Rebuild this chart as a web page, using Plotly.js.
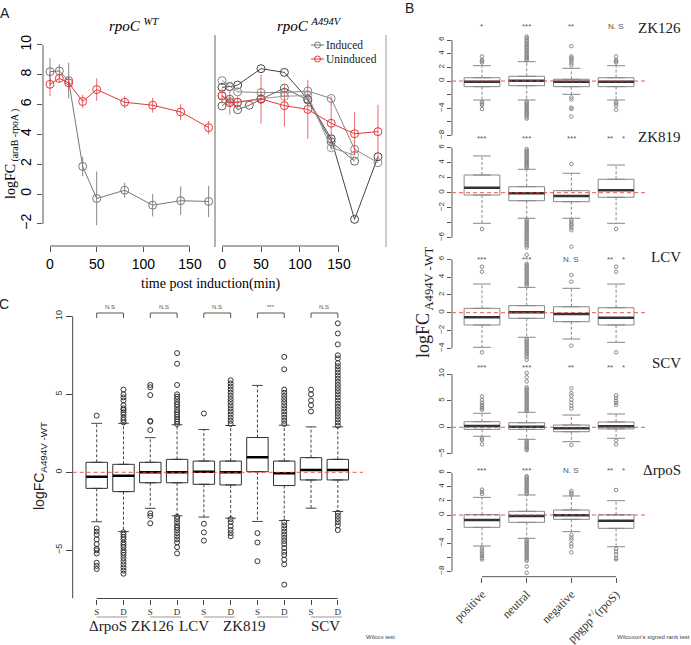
<!DOCTYPE html>
<html><head><meta charset="utf-8">
<script src="https://cdn.plot.ly/plotly-3.0.1.min.js"></script>
<style>html,body{margin:0;padding:0;background:#fff}#chart{width:691px;height:645px}</style>
</head><body><div id="chart"></div>
<script>
// ---------------- Panel A data ----------------
const timeWT = [0,10,20,35,50,80,110,140,170];
const wtInduced = [8.2,8.25,7.6,1.85,-0.3,0.25,-0.75,-0.45,-0.5];
const wtInducedErr = [0.9,0.45,1.2,0.65,1.8,0.5,0.75,0.95,1.05];
const wtUninduced = [7.35,7.75,7.45,6.2,7.0,6.15,5.95,5.5,4.45];
const wtUninducedErr = [0.8,0.3,0.4,0.45,0.75,0.4,0.5,0.55,0.45];

const timeMut = [0,10,20,50,80,110,140,170,200];
const mutUninduced = [6.57,6.12,6.15,6.37,5.92,5.67,4.74,4.04,4.18];
const mutUninducedErr = [0.5,0.8,0.4,1.65,1.4,1.98,1.8,1.45,1.8];
const mutRep1 = [7.15,7.2,7.3,8.4,8.15,6.35,3.7,-1.7,2.5];
const mutRep2 = [7.6,7.2,6.85,6.8,6.8,6.9,6.4,3.0,2.1];
const timeRep3 = [0,10,20,35,50,80,110,140,170];
const mutRep3 = [5.9,6.35,5.65,5.95,6.35,7.1,6.3,3.5,2.2];
const timeRep4 = [0,10,20,50,80,110,140,170];
const mutRep4 = [6.6,6.2,6.15,6.4,6.55,6.6,3.1,2.6];
const aTicksX = [0,50,100,150];
const aTicksY = [-2,0,2,4,6,8,10];

// ---------------- Panel B data ----------------
const bCats = ['positive','neutral','negative','ppgpp<sup>+/</sup>(rpoS)'];
const bStrains = ['ZK126','ZK819','LCV','SCV','ΔrpoS'];

const zk126Q1=[-0.83,-0.69,-0.83,-0.83], zk126Med=[-0.10,0.05,-0.10,-0.10], zk126Q3=[0.48,0.69,0.25,0.48];
const zk126Lo=[-2.78,-2.78,-1.95,-2.78], zk126Hi=[2.24,2.83,1.86,2.24];
const zk126Out=[[2.7,2.9,3.05,3.6,-3.1,-3.3,-3.5,-4.1],
 [3.0,3.15,3.35,3.5,3.7,3.9,4.05,4.3,4.45,4.6,4.85,5.0,5.2,5.45,5.6,5.85,6.05,6.3,6.5,-3.0,-3.15,-3.35,-3.55,-3.7,-3.9,-4.1,-4.25,-4.5,-4.7,-4.85,-5.05,-5.3,-5.5],
 [2.3,2.6,2.9,3.2,3.4,3.6,5.1,-2.4,-2.7,-3.9,-4.1,-5.2],
 [2.7,2.9,3.05,3.6,-3.1,-3.3,-3.6,-4.2]];
const zk126Sig=['*','***','**','N. S'];

const zk819Q1=[-0.31,-1.07,-1.20,-0.61], zk819Med=[0.67,-0.08,-0.44,0.32], zk819Q3=[2.36,0.80,0.27,1.79];
const zk819Lo=[-4.08,-3.41,-3.41,-4.08], zk819Hi=[4.90,3.12,2.59,3.69];
const zk819Out=[[-4.85],
 [3.3,3.45,3.6,3.8,3.95,4.1,4.3,4.45,4.6,4.8,4.95,5.1,5.3,5.45,5.6,5.8,-3.6,-3.8,-3.95,-4.15,-4.3,-4.5,-4.7,-4.85,-5.05,-5.25,-5.4,-5.6,-5.8,-6.0,-6.2,-6.4,-6.6,-6.85,-7.05,-7.3,-8.3],
 [3.83,-3.7,-3.9,-4.2,-4.4,-4.7,-5.0,-7.2],
 [-4.85]];
const zk819Sig=['***','***','***','**    *'];

const lcvQ1=[-1.38,-0.63,-1.01,-1.38], lcvMed=[-0.52,0.04,-0.15,-0.56], lcvQ3=[0.49,0.79,0.67,0.56];
const lcvLo=[-3.89,-2.76,-2.96,-3.33], lcvHi=[3.22,2.85,2.74,3.22];
const lcvOut=[[4.6,5.17,-4.45],
 [3.0,3.2,3.35,3.5,3.7,3.85,4.0,4.2,4.35,4.5,4.7,4.85,5.0,5.2,5.35,5.5,6.5,-2.95,-3.1,-3.3,-3.45,-3.6,-3.8,-3.95,-4.1,-4.3,-4.45,-4.6,-4.8,-5.0,-5.3],
 [3.48,4.24,-3.7],
 [4.6,5.17,-4.45]];
const lcvSig=['***','***','N. S','**    *'];

const scvQ1=[-0.38,-0.38,-0.83,-0.30], scvMed=[0.24,0.11,-0.19,0.20], scvQ3=[1.05,0.86,0.43,1.00];
const scvLo=[-1.69,-2.25,-2.70,-2.06], scvHi=[2.63,2.81,2.30,2.50];
const scvOut=[[3.3,3.6,3.9,4.2,4.6,5.1,5.8,-2.1,-2.4,-3.2],
 [3.0,3.25,3.5,3.8,4.05,4.3,4.6,4.85,5.1,5.4,5.65,5.9,6.2,6.45,6.7,7.0,7.25,7.5,8.6,9.4,10.2,-2.5,-2.75,-3.0,-3.3,-3.55,-3.8,-4.05,-4.3],
 [3.5,4.0,4.6,5.2,5.9,6.4,7.3,-3.3],
 [4.2,4.6,5.0,5.5,6.0,-2.5,-3.2]];
const scvSig=['***','***','**','**    *'];

const rposQ1=[-1.75,-1.04,-0.61,-1.89], rposMed=[-0.71,-0.14,-0.05,-0.80], rposQ3=[0.05,0.52,0.71,0.02];
const rposLo=[-4.40,-3.31,-2.36,-4.50], rposHi=[2.50,2.84,2.70,2.03];
const rposOut=[[3.0,3.3,3.6,-4.6,-4.9,-5.2,-5.5,-5.8,-6.1,-6.3],
 [3.0,3.2,3.4,3.6,3.8,3.95,4.15,4.35,4.55,4.75,4.95,5.15,5.35,5.5,-3.5,-3.7,-3.9,-4.1,-4.3,-4.5,-4.7,-4.9,-5.1,-5.3,-5.5,-5.7,-5.9,-6.1,-6.3,-6.5,-7.3,-8.2],
 [2.9,3.1,3.4,-2.8,-3.2,-3.5,-4.1,-4.5,-5.3],
 [3.55,-4.8,-5.2,-5.6,-6.1,-6.3]];
const rposSig=['***','***','N. S','**    *'];

// labelled ticks and unlabelled (minor) ticks of each B panel
const zk126Ticks=[-8,-4,0,2,4,6], zk126Minor=[-6,-2];
const zk819Ticks=[-6,-2,0,2,4,6], zk819Minor=[-4];
const lcvTicks=[-4,-2,0,2,4,6], lcvMinor=[];
const scvTicks=[-5,0,5,10], scvMinor=[];
const rposTicks=[-8,-4,0,2,4,6], rposMinor=[-6,-2];

// ---------------- Panel C data ----------------
const cTickText = ['S','D','S','D','S','D','S','D','S','D'];
const cGroups = ['ΔrpoS','ZK126','LCV','ZK819','SCV'];
const cSig = ['N.S','N.S','N.S','***','N.S'];
const cQ1 = [-1.03,-1.24,-0.67,-0.67,-0.77,-0.81,0.04,-0.85,-0.49,-0.49];
const cMed = [-0.28,-0.22,0.0,0.0,0.04,0.0,0.96,-0.06,0.15,0.15];
const cQ3 = [0.64,0.51,0.64,0.83,0.72,0.72,2.23,0.72,0.94,0.83];
const cLo = [-3.17,-3.8,-2.31,-2.79,-2.87,-2.94,-3.15,-3.09,-2.30,-2.51];
const cHi = [3.14,3.14,2.22,3.05,2.74,3.0,5.57,3.02,2.91,2.91];
const cOut = [
 [3.63,-3.6,-3.8,-4.0,-4.3,-4.6,-4.9,-5.0,-5.2,-5.8,-6.0,-6.2],
 [3.2,3.35,3.5,3.7,3.85,4.0,4.1,4.3,4.6,4.8,5.0,5.3,-3.85,-4.0,-4.15,-4.3,-4.5,-4.65,-4.8,-5.0,-5.15,-5.3,-5.5,-5.7,-5.9,-6.1,-6.3,-6.5],
 [2.71,3.25,3.3,4.95,5.45,5.6,-2.63,-2.8,-3.27],
 [3.1,3.25,3.4,3.55,3.7,3.85,4.0,4.2,4.35,4.5,4.7,4.85,5.0,5.6,6.96,7.64,-2.85,-3.0,-3.2,-3.4,-3.55,-3.7,-3.9,-4.1,-4.3,-4.5,-4.8,-5.2],
 [3.77,-3.3,-3.85,-4.38],
 [3.1,3.3,3.5,3.7,3.9,4.1,4.3,4.5,4.7,4.9,5.1,5.3,5.5,5.7,5.9,-3.0,-3.2,-3.45,-3.7,-3.9,-4.1],
 [-3.9,-4.5,-5.7],
 [3.1,3.3,3.5,3.7,3.9,4.1,4.3,4.5,4.7,4.9,5.1,5.3,6.6,7.4,-3.2,-3.4,-3.6,-3.8,-4.0,-4.2,-4.4,-4.6,-4.85,-5.1,-5.3,-5.6,-5.9,-7.2],
 [3.9,4.3,4.6,5.0,5.3],
 [3.0,3.2,3.4,3.6,3.8,4.0,4.2,4.4,4.6,4.8,5.0,5.2,5.4,5.6,5.8,6.0,6.2,6.4,6.6,6.8,7.0,7.3,7.5,8.2,8.9,9.55,-2.6,-2.8,-3.0,-3.2,-3.4,-3.7]
];
const cTicksY = [-5,0,5,10];

// ---------------- helpers ----------------
const W=691,H=645;
const PX = p => p/W;
const PY = p => 1 - p/H;
const SERIF = '"Liberation Serif","DejaVu Serif",serif';
const SANS = '"Liberation Sans",Arial,sans-serif';

const traces = [];
const shapes = [];
const annotations = [];
const layout = {
  width: W, height: H, margin:{l:0,r:0,t:0,b:0},
  paper_bgcolor:'#fff', plot_bgcolor:'rgba(0,0,0,0)',
  showlegend:false, font:{family:SANS, color:'#000'},
  shapes, annotations
};

function boxSet(xa, ya, pos, q1, med, q3, lo, hi, outs, st){
  traces.push({type:'box', x:pos, q1:q1, median:med, q3:q3, lowerfence:q1, upperfence:q3,
    width:0.8, boxpoints:false, fillcolor:'rgba(255,255,255,0)', line:{color:st.box, width:st.bw},
    xaxis:xa, yaxis:ya, hoverinfo:'skip'});
  const wx=[], wy=[], sx=[], sy=[], mx=[], my=[], ox=[], oy=[];
  pos.forEach((p,i)=>{
    wx.push(p,p,null,p,p,null); wy.push(q3[i],hi[i],null,q1[i],lo[i],null);
    sx.push(p-0.2,p+0.2,null,p-0.2,p+0.2,null); sy.push(hi[i],hi[i],null,lo[i],lo[i],null);
    mx.push(p-0.4,p+0.4,null); my.push(med[i],med[i],null);
    outs[i].forEach(v=>{ox.push(p); oy.push(v);});
  });
  traces.push({type:'scatter', mode:'lines', x:wx, y:wy, xaxis:xa, yaxis:ya, line:{color:st.wh, width:st.bw, dash:'3px,2px'}, hoverinfo:'skip', cliponaxis:false});
  traces.push({type:'scatter', mode:'lines', x:sx, y:sy, xaxis:xa, yaxis:ya, line:{color:st.wh, width:st.bw}, hoverinfo:'skip', cliponaxis:false});
  traces.push({type:'scatter', mode:'lines', x:mx, y:my, xaxis:xa, yaxis:ya, line:{color:st.med, width:st.mw}, hoverinfo:'skip', cliponaxis:false});
  traces.push({type:'scatter', mode:'markers', x:ox, y:oy, xaxis:xa, yaxis:ya, marker:{symbol:'circle-open', size:st.os, color:st.oc, line:{width:st.ow, color:st.oc}}, hoverinfo:'skip', cliponaxis:false});
}

// ---------------- Panel A ----------------
const aTop=35, aBot=246, aZero=194, aScale=14.92;
const aYr=[(aZero-aBot)/aScale, (aZero-aTop)/aScale];
layout.yaxis = {domain:[PY(aBot),PY(aTop)], range:aYr, tickvals:aTicksY, tickangle:-90, ticks:'outside', ticklen:5, tickcolor:'#555',
  tickfont:{size:14,family:SANS}, showgrid:false, zeroline:false, showline:false, anchor:'x'};
layout.xaxis = {domain:[PX(43),PX(215)], range:[-7.5,176.8], tickvals:aTicksX, ticks:'outside', ticklen:5, tickcolor:'#555',
  tickfont:{size:14,family:SANS}, showgrid:false, zeroline:false, showline:false, anchor:'y'};
layout.yaxis2 = {domain:[PY(aBot),PY(aTop)], range:aYr, showticklabels:false, ticks:'', showgrid:false, zeroline:false, anchor:'x2'};
layout.xaxis2 = {domain:[PX(215),PX(386)], range:[-9,210.3], tickvals:aTicksX, ticks:'outside', ticklen:5, tickcolor:'#555',
  tickfont:{size:14,family:SANS}, showgrid:false, zeroline:false, showline:false, anchor:'y2'};

const red='#e23a3a', redErr='rgba(226,58,58,0.75)', grey='#777';
traces.push({type:'scatter', mode:'lines+markers', x:timeWT, y:wtInduced, xaxis:'x', yaxis:'y',
  error_y:{type:'data', array:wtInducedErr, visible:true, width:0, thickness:1, color:'#888'},
  line:{color:grey,width:1}, marker:{symbol:'circle-open',size:8,color:grey,line:{width:1}}, cliponaxis:false});
traces.push({type:'scatter', mode:'lines+markers', x:timeWT, y:wtUninduced, xaxis:'x', yaxis:'y',
  error_y:{type:'data', array:wtUninducedErr, visible:true, width:0, thickness:1, color:redErr},
  line:{color:red,width:1}, marker:{symbol:'circle-open',size:8,color:red,line:{width:1}}, cliponaxis:false});
[[timeMut,mutRep1,'#444'],[timeMut,mutRep2,'#888'],[timeRep3,mutRep3,'#666'],[timeRep4,mutRep4,'#999']].forEach(r=>{
  traces.push({type:'scatter', mode:'lines+markers', x:r[0], y:r[1], xaxis:'x2', yaxis:'y2',
    line:{color:r[2],width:1}, marker:{symbol:'circle-open',size:8,color:r[2],line:{width:1}}, cliponaxis:false});
});
traces.push({type:'scatter', mode:'lines+markers', x:timeMut, y:mutUninduced, xaxis:'x2', yaxis:'y2',
  error_y:{type:'data', array:mutUninducedErr, visible:true, width:0, thickness:1, color:redErr},
  line:{color:red,width:1}, marker:{symbol:'circle-open',size:8,color:red,line:{width:1}}, cliponaxis:false});

// axis lines & frame panel A
shapes.push({type:'line', xref:'x domain', yref:'y', x0:0, x1:0, y0:-2, y1:10, line:{color:'#555',width:1}});
shapes.push({type:'line', xref:'x', yref:'y domain', x0:0, x1:150, y0:0, y1:0, line:{color:'#555',width:1}});
shapes.push({type:'line', xref:'x2', yref:'y2 domain', x0:0, x1:150, y0:0, y1:0, line:{color:'#555',width:1}});
shapes.push({type:'line', xref:'paper', yref:'paper', x0:PX(215), x1:PX(215), y0:PY(35), y1:PY(247), line:{color:'#999',width:1.5}});
shapes.push({type:'line', xref:'paper', yref:'paper', x0:PX(386), x1:PX(386), y0:PY(35), y1:PY(247), line:{color:'#999',width:1}});
// legend
[[45,grey,'Induced'],[59,red,'Uninduced']].forEach(l=>{
  shapes.push({type:'line', xref:'paper', yref:'paper', x0:PX(311), x1:PX(324), y0:PY(l[0]), y1:PY(l[0]), line:{color:l[1],width:1}});
  shapes.push({type:'circle', xref:'paper', yref:'paper', x0:PX(314.5), x1:PX(320.5), y0:PY(l[0]+3), y1:PY(l[0]-3), line:{color:l[1],width:1}});
  annotations.push({xref:'paper', yref:'paper', x:PX(325), y:PY(l[0]), xanchor:'left', yanchor:'middle', showarrow:false, borderpad:0,
    text:l[2], font:{family:SERIF, size:11.5, color:'#222'}});
});
annotations.push({xref:'paper', yref:'paper', x:PX(134), y:PY(25), showarrow:false, xanchor:'center', yanchor:'middle',
  text:'<i>rpoC</i> <i><sup>WT</sup></i>', font:{family:SERIF,size:15}});
annotations.push({xref:'paper', yref:'paper', x:PX(309), y:PY(25), showarrow:false, xanchor:'center', yanchor:'middle',
  text:'<i>rpoC</i> <i><sup>A494V</sup></i>', font:{family:SERIF,size:15}});
annotations.push({xref:'paper', yref:'paper', x:PX(211), y:PY(284), showarrow:false, xanchor:'center', yanchor:'middle',
  text:'time post induction(min)', font:{family:SERIF,size:14}});
annotations.push({xref:'paper', yref:'paper', x:PX(12), y:PY(154), showarrow:false, textangle:-90, xanchor:'center', yanchor:'middle',
  text:'logFC<sub> (araB -rpoA )</sub>', font:{family:SERIF,size:14}});

// ---------------- Panel B ----------------
const bData = [
  [zk126Q1,zk126Med,zk126Q3,zk126Lo,zk126Hi,zk126Out,zk126Sig,zk126Ticks,zk126Minor],
  [zk819Q1,zk819Med,zk819Q3,zk819Lo,zk819Hi,zk819Out,zk819Sig,zk819Ticks,zk819Minor],
  [lcvQ1,lcvMed,lcvQ3,lcvLo,lcvHi,lcvOut,lcvSig,lcvTicks,lcvMinor],
  [scvQ1,scvMed,scvQ3,scvLo,scvHi,scvOut,scvSig,scvTicks,scvMinor],
  [rposQ1,rposMed,rposQ3,rposLo,rposHi,rposOut,rposSig,rposTicks,rposMinor]
];
const bGeom = [
  {top:22, bot:140, zero:81, scale:6.83, lab:28, sig:26},
  {top:141, bot:250, zero:192.7, scale:7.5, lab:137, sig:138},
  {top:251, bot:360, zero:312.7, scale:8.9, lab:257, sig:259},
  {top:361, bot:462, zero:427.3, scale:5.33, lab:363, sig:367},
  {top:463, bot:576.7, zero:515, scale:7.05, lab:470, sig:470}
];
const bPos=[1,2,3,4];
const bXr=[0.329,4.647];
const bStyle={box:'#888', bw:1, wh:'#888', med:'#333', mw:2.5, os:3.5, oc:'#888', ow:1};
bData.forEach((d,k)=>{
  const g=bGeom[k], n=k+3, xa='x'+n, ya='y'+n;
  const last = (k===4);
  layout['xaxis'+n] = {domain:[PX(452),PX(645)], range:bXr, showgrid:false, zeroline:false, anchor:ya,
    showticklabels:last, ticks:last?'outside':'', ticklen:5, tickcolor:'#555',
    tickvals:bPos, ticktext:bCats, tickangle:-45, tickfont:{family:SERIF,size:12,color:'#333'}};
  const yax = {domain:[PY(g.bot),PY(g.top)], range:[(g.zero-g.bot)/g.scale,(g.zero-g.top)/g.scale],
    tickvals:d[7], tickangle:-90, ticks:'outside', ticklen:4, tickcolor:'#555',
    tickfont:{size:8,color:'#333',family:SANS}, showgrid:false, zeroline:false, anchor:xa};
  if (d[8].length) yax.minor = {tickvals:d[8], ticks:'outside', ticklen:4, tickcolor:'#555', showgrid:false};
  layout['yaxis'+n] = yax;
  boxSet(xa, ya, bPos, d[0], d[1], d[2], d[3], d[4], d[5], bStyle);
  const t=d[7];
  shapes.push({type:'line', xref:xa+' domain', yref:ya, x0:0, x1:0, y0:t[0], y1:t[t.length-1], line:{color:'#555',width:1}});
  shapes.push({type:'line', xref:xa+' domain', yref:ya, x0:0, x1:1, y0:0, y1:0, line:{color:'rgba(230,60,60,0.85)',width:1, dash:'4px,3px'}});
  annotations.push({xref:'paper', yref:'paper', x:PX(683), y:PY(g.lab), xanchor:'right', yanchor:'middle', showarrow:false,
    text:bStrains[k], font:{family:SERIF,size:15,color:'#222'}});
  d[6].forEach((s,i)=>{
    annotations.push({xref:xa, yref:'paper', x:bPos[i], y:PY(g.sig), xanchor:'center', yanchor:'middle', showarrow:false,
      text:s, font:{family:SANS,size:8,color:'#555'}});
  });
});
shapes.push({type:'line', xref:'x7', yref:'y7 domain', x0:1, x1:4, y0:0, y1:0, line:{color:'#555',width:1}});
annotations.push({xref:'paper', yref:'paper', x:PX(424), y:PY(302), xanchor:'center', yanchor:'middle', showarrow:false, textangle:-90,
  text:'logFC<sub> A494V -WT</sub>', font:{family:SERIF,size:18,color:'#222'}});
annotations.push({xref:'paper', yref:'paper', x:PX(653), y:PY(637), xanchor:'center', yanchor:'middle', showarrow:false,
  text:"Wilcoxon's signed rank test", font:{family:SANS,size:6,color:'#444'}});

// ---------------- Panel C ----------------
const cPos=[1,2,3,4,5,6,7,8,9,10];
const cTop=305, cBot=598.5, cZero=472.3, cScale=15.6;
layout.xaxis8 = {domain:[PX(72.7),PX(363)], range:[0.104,10.94], tickvals:cPos, ticktext:cTickText, ticks:'outside', ticklen:5, tickcolor:'#444',
  tickfont:{family:SERIF,size:9,color:'#333'}, showgrid:false, zeroline:false, anchor:'y8'};
layout.yaxis8 = {domain:[PY(cBot),PY(cTop)], range:[(cZero-cBot)/cScale,(cZero-cTop)/cScale], tickvals:cTicksY, tickangle:-90,
  ticks:'outside', ticklen:6, tickcolor:'#444', tickfont:{size:9,color:'#333',family:SANS}, showgrid:false, zeroline:false, anchor:'x8'};
boxSet('x8','y8', cPos, cQ1, cMed, cQ3, cLo, cHi, cOut, {box:'#333', bw:1, wh:'#444', med:'#000', mw:2.5, os:5, oc:'#333', ow:1});
shapes.push({type:'line', xref:'x8 domain', yref:'y8', x0:0, x1:0, y0:(cZero-cBot)/cScale, y1:10, line:{color:'#444',width:1}});
shapes.push({type:'line', xref:'x8', yref:'y8 domain', x0:1, x1:10, y0:0, y1:0, line:{color:'#444',width:1}});
shapes.push({type:'line', xref:'x8 domain', yref:'y8', x0:0, x1:1, y0:0, y1:0, line:{color:'rgba(230,60,60,0.85)',width:1, dash:'4px,3px'}});
const cGroupX=[108,152,194,244,325];
cGroups.forEach((gname,j)=>{
  const s=cPos[2*j], dd=cPos[2*j+1];
  annotations.push({xref:'paper', yref:'paper', x:PX(cGroupX[j]), y:PY(626), xanchor:'center', yanchor:'middle', showarrow:false,
    text:gname, font:{family:SERIF,size:15,color:'#222'}});
  shapes.push({type:'line', xref:'x8', yref:'paper', x0:s, x1:dd+0.15, y0:PY(617), y1:PY(617), line:{color:'#999',width:1}});
  shapes.push({type:'path', xref:'x8', yref:'paper', path:`M ${s},${PY(318)} L ${s},${PY(313)} L ${dd},${PY(313)} L ${dd},${PY(318)}`, line:{color:'#555',width:1}});
  annotations.push({xref:'x8', yref:'paper', x:(s+dd)/2, y:PY(306.5), xanchor:'center', yanchor:'middle', showarrow:false,
    text:cSig[j], font:{family:SANS,size:6,color:'#555'}});
});
annotations.push({xref:'paper', yref:'paper', x:PX(40), y:PY(466), xanchor:'center', yanchor:'middle', showarrow:false, textangle:-90,
  text:'logFC<sub>A494V -WT</sub>', font:{family:SANS,size:14,color:'#222'}});
annotations.push({xref:'paper', yref:'paper', x:PX(380), y:PY(637), xanchor:'center', yanchor:'middle', showarrow:false,
  text:'Wilcox test', font:{family:SANS,size:6,color:'#444'}});

// panel letters
[['A',5,13],['B',409,8],['C',4,304]].forEach(p=>{
  annotations.push({xref:'paper', yref:'paper', x:PX(p[1]), y:PY(p[2]), xanchor:'center', yanchor:'middle', showarrow:false,
    text:p[0], font:{family:SANS,size:14,color:'#222'}});
});

Plotly.newPlot('chart', traces, layout, {staticPlot:true});
</script>
</body></html>
